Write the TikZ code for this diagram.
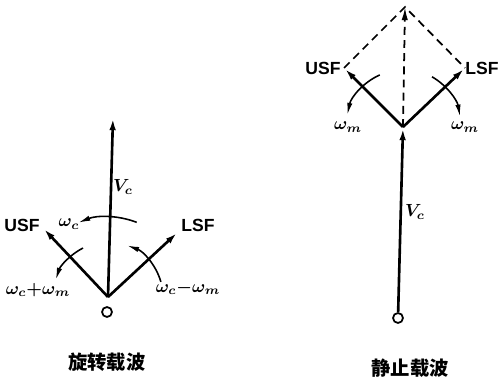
\documentclass[tikz,border=0pt]{standalone}
\usepackage{fontspec}
\setmainfont{Liberation Sans}
\newfontfamily\cjk{Noto Sans CJK SC}
\usetikzlibrary{arrows.meta}

\begin{document}
\begin{tikzpicture}[x=0.02cm,y=0.02cm]

  % One unit = one pixel of the 498 x 379 frame, y counted upwards.
  \useasboundingbox (0,0) rectangle (498,379);

  \tikzset{
    vec/.style={line width=1.5pt,-{Latex[length=7.5pt,width=3.6pt]}},
    turn/.style={line width=0.9pt,-{Latex[length=7pt,width=3pt]}},
    guide/.style={line width=1pt,dash pattern=on 4.5pt off 3pt},
    origin/.style={draw,circle,line width=1pt,minimum size=0.2cm,inner sep=0pt},
    sidelabel/.style={font=\bfseries\fontsize{10}{12}\selectfont,inner sep=1pt},
    freq/.style={font=\boldmath\fontsize{10}{12}\selectfont,inner sep=1pt},
    caption/.style={font=\cjk\bfseries\fontsize{11}{13}\selectfont}
  }

  % Rotating carrier (left)
  \coordinate (o1) at (108,82);
  \coordinate (vc1) at (113,262);
  \coordinate (usf1) at (43,151);
  \coordinate (lsf1) at (178,147);
  \node[origin] (c1) at (107,67) {};

  \foreach \tip in {vc1,usf1,lsf1}
    \draw[vec] (o1) -- (\tip);

  % Rotation senses, arcs about the common origin
  \draw[turn] ([shift={(69:80)}]o1) arc[start angle=69,end angle=112,radius=1.6cm];
  \draw[turn] ([shift={(117:55)}]o1) arc[start angle=117,end angle=162,radius=1.1cm];
  \draw[turn] ([shift={(16:55)}]o1) arc[start angle=16,end angle=70,radius=1.1cm];

  \node[sidelabel] (usfl1) at (22,154) {USF};
  \node[sidelabel] (lsfl1) at (198,154) {LSF};
  \node[freq] (vcl1) at (123,192) {$V_c$};
  \node[freq] (wc1) at (69,155) {$\omega_c$};
  \node[freq] (wsum1) at (38,89) {$\omega_c{+}\omega_m$};
  \node[freq] (wdif1) at (188,91) {$\omega_c{-}\omega_m$};
  \node[caption] (cap1) at (107,17) {旋转载波};

  % Stationary carrier (right)
  \coordinate (o2) at (403,252);
  \coordinate (top2) at (405,372);
  \coordinate (usf2) at (344,311);
  \coordinate (lsf2) at (465,311);
  \node[origin] (c2) at (398,61) {};

  \draw[vec] (c2) -- (o2);
  \draw[vec] (o2) -- (usf2);
  \draw[vec] (o2) -- (lsf2);

  % Resultant of the two side frequencies
  \draw[guide] (usf2) -- (top2) -- (lsf2);
  \draw[guide,-{Latex[length=7.5pt,width=3.6pt]}] (o2) -- (top2);

  \draw[turn] ([shift={(114:57)}]o2) arc[start angle=114,end angle=168,radius=1.14cm];
  \draw[turn] ([shift={(60:58)}]o2) arc[start angle=60,end angle=10,radius=1.16cm];

  \node[sidelabel] (usfl2) at (323,311) {USF};
  \node[sidelabel] (lsfl2) at (482,311) {LSF};
  \node[freq] (wm2a) at (348,252) {$\omega_m$};
  \node[freq] (wm2b) at (465,252) {$\omega_m$};
  \node[freq] (vcl2) at (415,167) {$V_c$};
  \node[caption] (cap2) at (410,11) {静止载波};

\end{tikzpicture}
\end{document}
